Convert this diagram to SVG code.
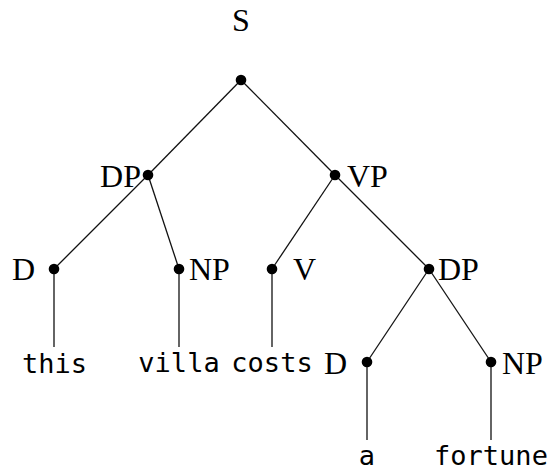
<svg xmlns="http://www.w3.org/2000/svg" width="552" height="474" viewBox="0 0 552 474">
<style>
.lbl{font-family:"Liberation Serif","Times New Roman",serif;font-size:32px;fill:#000}
.leaf{font-family:"DejaVu Sans Mono","Liberation Mono",monospace;font-size:27px;fill:#000;text-anchor:middle}
.dot{fill:#000}
.edge{stroke:#111;stroke-width:1.3;fill:none}
</style>
<rect width="552" height="474" fill="#fff"/>
<g id="connectors">
<line class="edge" x1="241" y1="80" x2="148" y2="175"/>
<line class="edge" x1="241" y1="80" x2="335" y2="175"/>
<line class="edge" x1="148" y1="175" x2="54" y2="269"/>
<line class="edge" x1="148" y1="175" x2="179" y2="269"/>
<line class="edge" x1="335" y1="175" x2="272" y2="269"/>
<line class="edge" x1="335" y1="175" x2="429" y2="269"/>
<line class="edge" x1="429" y1="269" x2="367" y2="362"/>
<line class="edge" x1="429" y1="269" x2="491" y2="362"/>
<line class="edge" x1="54" y1="269" x2="54" y2="347"/>
<line class="edge" x1="179" y1="269" x2="179" y2="347"/>
<line class="edge" x1="272" y1="269" x2="272" y2="347"/>
<line class="edge" x1="367" y1="362" x2="367" y2="440"/>
<line class="edge" x1="491" y1="362" x2="491" y2="440"/>
</g>
<g id="S"><circle class="dot" cx="241" cy="80" r="5.3"/><text class="lbl" x="241" y="31" text-anchor="middle">S</text></g>
<g id="DP1"><circle class="dot" cx="148" cy="175" r="5.3"/><text class="lbl" x="141" y="187" text-anchor="end">DP</text></g>
<g id="VP"><circle class="dot" cx="335" cy="175" r="5.3"/><text class="lbl" x="347" y="187">VP</text></g>
<g id="D1"><circle class="dot" cx="54" cy="269" r="5.3"/><text class="lbl" x="35" y="280" text-anchor="end">D</text></g>
<g id="NP1"><circle class="dot" cx="179" cy="269" r="5.3"/><text class="lbl" x="189" y="280">NP</text></g>
<g id="V"><circle class="dot" cx="272" cy="269" r="5.3"/><text class="lbl" x="293" y="280">V</text></g>
<g id="DP2"><circle class="dot" cx="429" cy="269" r="5.3"/><text class="lbl" x="438" y="280">DP</text></g>
<g id="D2"><circle class="dot" cx="367" cy="362" r="5.3"/><text class="lbl" x="347" y="374" text-anchor="end">D</text></g>
<g id="NP2"><circle class="dot" cx="491" cy="362" r="5.3"/><text class="lbl" x="502" y="374">NP</text></g>
<g id="leaf-this"><text class="leaf" x="54.5" y="373">this</text></g>
<g id="leaf-villa"><text class="leaf" x="179" y="372">villa</text></g>
<g id="leaf-costs"><text class="leaf" x="272" y="372">costs</text></g>
<g id="leaf-a"><text class="leaf" x="367" y="465">a</text></g>
<g id="leaf-fortune"><text class="leaf" x="491" y="465">fortune</text></g>
</svg>
